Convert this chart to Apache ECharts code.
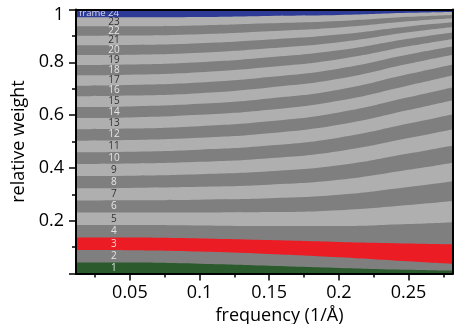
<!DOCTYPE html>
<html>
<head>
<meta charset="utf-8">
<script src="https://cdn.jsdelivr.net/npm/echarts@6/dist/echarts.min.js"></script>
<style>
  html, body { margin: 0; padding: 0; background: #fff; }
  #chart { width: 462px; height: 324px; }
</style>
</head>
<body>
<div id="chart"></div>
<script>
// Spatial frequency samples (1/Å)
const frequency = [0.0113, 0.05, 0.1, 0.15, 0.2, 0.25, 0.282];

// Relative weight of each movie frame at every frequency sample (frame 1 first)
const frameWeights = [
  [0.0417, 0.0413, 0.0371, 0.0295, 0.0212, 0.0140, 0.0106], // 1
  [0.0473, 0.0470, 0.0462, 0.0447, 0.0405, 0.0322, 0.0258], // 2
  [0.0473, 0.0477, 0.0492, 0.0523, 0.0576, 0.0674, 0.0739], // 3
  [0.0470, 0.0473, 0.0492, 0.0530, 0.0606, 0.0739, 0.0841], // 4
  [0.0470, 0.0473, 0.0492, 0.0530, 0.0598, 0.0720, 0.0803], // 5
  [0.0466, 0.0470, 0.0489, 0.0523, 0.0583, 0.0682, 0.0750], // 6
  [0.0462, 0.0466, 0.0485, 0.0515, 0.0568, 0.0652, 0.0701], // 7
  [0.0458, 0.0462, 0.0477, 0.0508, 0.0553, 0.0617, 0.0655], // 8
  [0.0455, 0.0458, 0.0470, 0.0496, 0.0534, 0.0583, 0.0614], // 9
  [0.0447, 0.0451, 0.0462, 0.0481, 0.0511, 0.0549, 0.0568], // 10
  [0.0439, 0.0443, 0.0451, 0.0466, 0.0489, 0.0515, 0.0530], // 11
  [0.0432, 0.0432, 0.0439, 0.0451, 0.0466, 0.0481, 0.0492], // 12
  [0.0424, 0.0424, 0.0428, 0.0436, 0.0443, 0.0451, 0.0455], // 13
  [0.0417, 0.0417, 0.0417, 0.0432, 0.0417, 0.0428, 0.0409], // 14
  [0.0409, 0.0409, 0.0405, 0.0413, 0.0413, 0.0390, 0.0364], // 15
  [0.0402, 0.0402, 0.0402, 0.0398, 0.0386, 0.0352, 0.0322], // 16
  [0.0394, 0.0390, 0.0390, 0.0379, 0.0360, 0.0314, 0.0280], // 17
  [0.0386, 0.0383, 0.0375, 0.0364, 0.0333, 0.0280, 0.0242], // 18
  [0.0379, 0.0375, 0.0364, 0.0345, 0.0311, 0.0250, 0.0208], // 19
  [0.0371, 0.0367, 0.0356, 0.0330, 0.0288, 0.0220, 0.0178], // 20
  [0.0364, 0.0360, 0.0345, 0.0314, 0.0265, 0.0193, 0.0152], // 21
  [0.0356, 0.0352, 0.0333, 0.0299, 0.0246, 0.0170, 0.0129], // 22
  [0.0341, 0.0337, 0.0318, 0.0280, 0.0227, 0.0152, 0.0110], // 23
  [0.0303, 0.0299, 0.0284, 0.0246, 0.0208, 0.0125, 0.0095]  // 24
];

// Text printed inside each band
const frameLabels = ['1', '2', '3', '4', '5', '6', '7', '8', '9', '10', '11', '12',
  '13', '14', '15', '16', '17', '18', '19', '20', '21', '22', '23', 'frame 24'];

// Axis ticks
const xTicks = [0.05, 0.1, 0.15, 0.2, 0.25];
const xMinorTicks = [0.025, 0.075, 0.125, 0.175, 0.225, 0.275];

// Frequency at which the frame numbers are printed
const labelFrequency = 0.0385;

const FONT = 'Open Sans';
const LIGHT = '#afafaf', DARK = '#7f7f7f';
const highlight = { 0: '#2b5b2c', 2: '#ec1c24', 23: '#2e3b96' };

function bandColor(k) {
  if (highlight[k]) return highlight[k];
  return (k + 1) % 2 === 0 ? DARK : LIGHT;
}
function labelColor(k) {
  if (highlight[k] || (k + 1) % 2 === 0) return '#ffffff';
  return '#111111';
}

// Running totals: upper edge of each frame's band at every frequency
const cumulative = [];
frameWeights.forEach((w, k) => {
  cumulative.push(w.map((v, i) => (k ? cumulative[k - 1][i] : 0) + v));
});

// Each band is an area filled from zero up to its running total;
// later frames are drawn first so lower frames paint over them.
const bandSeries = [];
for (let k = frameWeights.length - 1; k >= 0; k--) {
  bandSeries.push({
    type: 'line',
    name: frameLabels[k],
    smooth: true,
    symbol: 'none',
    xAxisIndex: 0,
    yAxisIndex: 0,
    lineStyle: { width: 0 },
    itemStyle: { color: bandColor(k) },
    areaStyle: { color: bandColor(k), opacity: 1, origin: 'start' },
    data: frequency.map((f, i) => [f, cumulative[k][i]]),
    z: 2
  });
}

// Band centres at the label frequency
const t = (labelFrequency - frequency[0]) / (frequency[1] - frequency[0]);
const labelData = frameWeights.map((w, k) => {
  const top = cumulative[k][0] + (cumulative[k][1] - cumulative[k][0]) * t;
  const wk = w[0] + (w[1] - w[0]) * t;
  const isLast = k === frameWeights.length - 1;
  return {
    name: frameLabels[k],
    value: [labelFrequency, top - wk / 2],
    label: {
      color: labelColor(k),
      align: isLast ? 'right' : 'center',
      fontSize: isLast ? 9.5 : 10,
      offset: isLast ? [5, 0] : [0, 0]
    }
  };
});

const chart = echarts.init(document.getElementById('chart'), null, { renderer: 'canvas' });

const axisFont = { fontFamily: FONT, fontSize: 18, color: '#000' };
const blackLine = { color: '#000', width: 2 };
const tickLine = { color: '#000', width: 1.5 };
const xMin = frequency[0], xMax = frequency[frequency.length - 1];

chart.setOption({
  animation: false,
  backgroundColor: '#fff',
  grid: { left: 76, right: 9, top: 9.5, bottom: 50.5, containLabel: false, outerBoundsMode: 'none' },
  xAxis: [
    {
      type: 'value', min: xMin, max: xMax, position: 'bottom', z: 10,
      axisLine: { show: true, onZero: false, lineStyle: blackLine },
      axisTick: { show: true, customValues: xTicks, length: 7, lineStyle: tickLine },
      axisLabel: Object.assign({ customValues: xTicks, margin: 10 }, axisFont),
      splitLine: { show: false },
      name: 'frequency (1/Å)', nameLocation: 'middle', nameGap: 31,
      nameTextStyle: Object.assign({ padding: [0, 0, 0, 30] }, axisFont)
    },
    {
      type: 'value', min: xMin, max: xMax, position: 'bottom', z: 10,
      axisLine: { show: false, onZero: false },
      axisTick: { show: true, customValues: xMinorTicks, length: 4, lineStyle: tickLine },
      axisLabel: { show: false },
      splitLine: { show: false }
    },
    {
      type: 'value', min: xMin, max: xMax, position: 'top', z: 10,
      axisLine: { show: true, onZero: false, lineStyle: blackLine },
      axisTick: { show: false }, axisLabel: { show: false }, splitLine: { show: false }
    }
  ],
  yAxis: [
    {
      type: 'value', min: 0, max: 1, interval: 0.2, position: 'left', z: 10,
      axisLine: { show: true, onZero: false, lineStyle: blackLine },
      axisTick: { show: true, length: 7, lineStyle: tickLine },
      minorTick: { show: true, splitNumber: 2, length: 4, lineStyle: tickLine },
      splitLine: { show: false },
      axisLabel: Object.assign({
        margin: 12,
        showMinLabel: false,
        formatter: v => (v === 1 ? '{top|1}' : String(+v.toFixed(1))),
        rich: { top: Object.assign({ padding: [11, 0, 0, 0] }, axisFont) }
      }, axisFont),
      name: 'relative weight', nameLocation: 'middle', nameGap: 44,
      nameTextStyle: axisFont
    },
    {
      type: 'value', min: 0, max: 1, position: 'right', z: 10,
      axisLine: { show: true, onZero: false, lineStyle: blackLine },
      axisTick: { show: false }, axisLabel: { show: false }, splitLine: { show: false }
    }
  ],
  series: bandSeries.concat([{
    type: 'scatter',
    xAxisIndex: 0, yAxisIndex: 0,
    symbolSize: 0,
    silent: true,
    z: 5,
    label: { show: true, position: 'inside', formatter: p => p.name, fontFamily: FONT, fontSize: 10 },
    data: labelData
  }])
});
</script>
</body>
</html>
